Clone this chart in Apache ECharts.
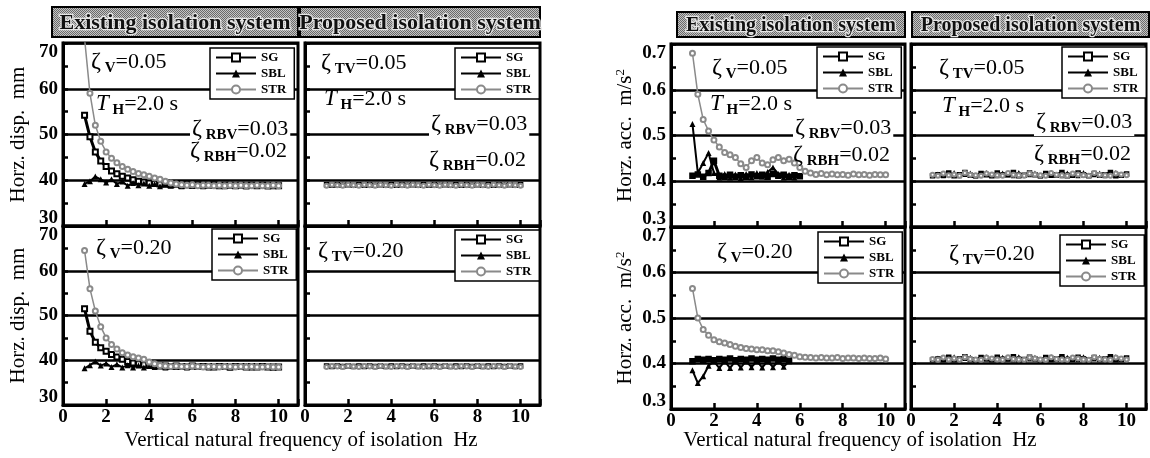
<!DOCTYPE html>
<html>
<head>
<meta charset="utf-8">
<script src="https://cdn.jsdelivr.net/npm/echarts@6/dist/echarts.min.js"></script>
<style>
html, body { margin: 0; padding: 0; background: #fff; }
#chart { width: 1150px; height: 458px; }
</style>
</head>
<body>
<div id="chart"></div>
<script>
// vertical natural frequency of isolation, Hz
var freq = [1, 1.25, 1.5, 1.75, 2, 2.25, 2.5, 2.75, 3, 3.25,
  3.5, 3.75, 4, 4.25, 4.5, 4.75, 5, 5.25, 5.5, 5.75,
  6, 6.25, 6.5, 6.75, 7, 7.25, 7.5, 7.75, 8, 8.25,
  8.5, 8.75, 9, 9.25, 9.5, 9.75, 10];

// horizontal displacement, mm - existing system
var dispExSG05 = [54.2, 49.5, 46.2, 44.2, 43.0, 42.0, 41.4, 40.9, 40.5, 40.1,
  39.8, 39.6, 39.4, 39.3, 39.2, 39.1, 39.0, 39.1, 38.9, 39.0,
  38.9, 39.0, 38.9, 38.9, 39.0, 38.8, 38.9, 38.9, 38.8, 38.9,
  38.8, 38.9, 38.8, 38.9, 38.8, 38.8, 38.8];
var dispExSBL05 = [39.2, 39.8, 40.8, 40.2, 39.5, 40.2, 39.2, 39.7, 38.8, 39.4,
  38.9, 39.3, 38.8, 39.2, 38.7, 39.1, 38.8, 39.1, 38.7, 39.0,
  38.8, 39.0, 38.7, 39.0, 38.8, 39.0, 38.7, 38.9, 38.8, 39.0,
  38.7, 38.9, 38.8, 38.9, 38.7, 38.9, 38.8];
var dispExSTR05 = [71.0, 59.0, 52.0, 48.5, 46.2, 44.8, 43.8, 43.0, 42.4, 41.9,
  41.5, 41.2, 40.9, 40.5, 40.2, 39.8, 39.4, 39.2, 39.0, 38.9,
  39.0, 38.8, 38.9, 38.9, 38.8, 38.9, 38.8, 38.9, 38.8, 38.9,
  38.8, 38.8, 38.9, 38.8, 38.8, 38.9, 38.8];
var dispExSG20 = [51.5, 46.5, 44.0, 42.8, 42.0, 41.3, 40.7, 40.2, 39.7, 39.4,
  39.2, 39.0, 38.9, 38.8, 38.7, 38.7, 38.6, 38.7, 38.6, 38.6,
  38.7, 38.6, 38.6, 38.6, 38.5, 38.6, 38.6, 38.5, 38.6, 38.6,
  38.5, 38.6, 38.5, 38.6, 38.5, 38.5, 38.5];
var dispExSBL20 = [38.2, 38.9, 39.7, 38.8, 39.3, 38.5, 39.1, 38.4, 38.9, 38.4,
  38.8, 38.4, 38.7, 38.5, 38.8, 38.4, 38.7, 38.5, 38.7, 38.4,
  38.7, 38.5, 38.7, 38.4, 38.6, 38.5, 38.7, 38.4, 38.6, 38.5,
  38.7, 38.4, 38.6, 38.5, 38.6, 38.4, 38.5];
var dispExSTR20 = [64.5, 56.0, 51.0, 47.5, 45.0, 43.5, 42.5, 41.7, 41.2, 40.8,
  40.5, 40.2, 39.6, 39.2, 38.8, 38.7, 38.6, 38.7, 38.6, 38.6,
  38.7, 38.6, 38.5, 38.6, 38.6, 38.5, 38.6, 38.6, 38.5, 38.6,
  38.5, 38.6, 38.5, 38.5, 38.6, 38.5, 38.5];

// horizontal displacement, mm - proposed system
var dispPrSG05 = [39.0, 38.9, 39.0, 38.9, 39.0, 38.9, 39.0, 38.9, 39.0, 38.9,
  39.0, 38.9, 39.0, 38.9, 39.0, 38.9, 39.0, 38.9, 39.0, 38.9,
  39.0, 38.9, 39.0, 38.9, 39.0, 38.9, 39.0, 38.9, 39.0, 38.9,
  39.0, 38.9, 39.0, 38.9, 39.0, 38.9, 39.0];
var dispPrSBL05 = [38.9, 39.1, 38.9, 39.0, 39.1, 38.9, 39.0, 39.1, 38.9, 39.0,
  39.1, 38.9, 39.0, 39.1, 38.9, 39.0, 39.1, 38.9, 39.0, 39.1,
  38.9, 39.0, 39.1, 38.9, 39.0, 39.1, 38.9, 39.0, 39.1, 38.9,
  39.0, 39.1, 38.9, 39.0, 39.1, 38.9, 39.0];
var dispPrSTR05 = [38.8, 39.0, 38.9, 38.8, 39.0, 38.9, 38.8, 39.0, 38.9, 38.8,
  39.0, 38.9, 38.8, 39.0, 38.9, 38.8, 39.0, 38.9, 38.8, 39.0,
  38.9, 38.8, 39.0, 38.9, 38.8, 39.0, 38.9, 38.8, 39.0, 38.9,
  38.8, 39.0, 38.9, 38.8, 39.0, 38.9, 38.8];
var dispPrSG20 = [38.7, 38.6, 38.7, 38.6, 38.7, 38.6, 38.7, 38.6, 38.7, 38.6,
  38.7, 38.6, 38.7, 38.6, 38.7, 38.6, 38.7, 38.6, 38.7, 38.6,
  38.7, 38.6, 38.7, 38.6, 38.7, 38.6, 38.7, 38.6, 38.7, 38.6,
  38.7, 38.6, 38.7, 38.6, 38.7, 38.6, 38.7];
var dispPrSBL20 = [38.6, 38.8, 38.6, 38.7, 38.8, 38.6, 38.7, 38.8, 38.6, 38.7,
  38.8, 38.6, 38.7, 38.8, 38.6, 38.7, 38.8, 38.6, 38.7, 38.8,
  38.6, 38.7, 38.8, 38.6, 38.7, 38.8, 38.6, 38.7, 38.8, 38.6,
  38.7, 38.8, 38.6, 38.7, 38.8, 38.6, 38.7];
var dispPrSTR20 = [38.5, 38.7, 38.6, 38.5, 38.7, 38.6, 38.5, 38.7, 38.6, 38.5,
  38.7, 38.6, 38.5, 38.7, 38.6, 38.5, 38.7, 38.6, 38.5, 38.7,
  38.6, 38.5, 38.7, 38.6, 38.5, 38.7, 38.6, 38.5, 38.7, 38.6,
  38.5, 38.7, 38.6, 38.5, 38.7, 38.6, 38.5];

// horizontal acceleration, m/s2 - existing system (SG, SBL computed up to ~6 Hz)
var accExSG05 = [0.412, 0.415, 0.410, 0.418, 0.445, 0.412, 0.410, 0.414, 0.410, 0.413,
  0.410, 0.415, 0.411, 0.414, 0.410, 0.416, 0.412, 0.414, 0.410, 0.413,
  0.411];
var accExSBL05 = [0.525, 0.418, 0.440, 0.462, 0.418, 0.408, 0.416, 0.408, 0.415, 0.407,
  0.416, 0.409, 0.418, 0.410, 0.420, 0.430, 0.416, 0.408, 0.414, 0.408,
  0.412];
var accExSTR05 = [0.680, 0.590, 0.535, 0.510, 0.490, 0.475, 0.463, 0.458, 0.452, 0.438,
  0.430, 0.445, 0.452, 0.440, 0.436, 0.447, 0.452, 0.445, 0.448, 0.440,
  0.430, 0.422, 0.418, 0.415, 0.417, 0.414, 0.416, 0.414, 0.415, 0.413,
  0.416, 0.414, 0.415, 0.413, 0.415, 0.414, 0.414];
var accExSG20 = [0.405, 0.410, 0.408, 0.410, 0.407, 0.410, 0.408, 0.411, 0.407, 0.410,
  0.408, 0.411, 0.408, 0.410, 0.408, 0.411, 0.408, 0.410, 0.408];
var accExSBL20 = [0.385, 0.357, 0.372, 0.395, 0.405, 0.390, 0.405, 0.390, 0.405, 0.391,
  0.405, 0.392, 0.405, 0.391, 0.405, 0.392, 0.405, 0.393, 0.405];
var accExSTR20 = [0.565, 0.500, 0.475, 0.462, 0.452, 0.448, 0.445, 0.442, 0.438, 0.435,
  0.433, 0.432, 0.430, 0.430, 0.428, 0.428, 0.426, 0.423, 0.420, 0.418,
  0.415, 0.414, 0.413, 0.412, 0.413, 0.412, 0.412, 0.413, 0.411, 0.412,
  0.412, 0.411, 0.412, 0.411, 0.411, 0.412, 0.410];

// horizontal acceleration, m/s2 - proposed system
var accPrSG05 = [0.412, 0.414, 0.413, 0.418, 0.412, 0.414, 0.419, 0.413, 0.412, 0.417,
  0.414, 0.412, 0.418, 0.413, 0.414, 0.419, 0.412, 0.413, 0.418, 0.414,
  0.412, 0.417, 0.413, 0.414, 0.419, 0.412, 0.413, 0.418, 0.414, 0.412,
  0.417, 0.413, 0.414, 0.419, 0.412, 0.413, 0.416];
var accPrSBL05 = [0.413, 0.416, 0.412, 0.414, 0.419, 0.412, 0.415, 0.418, 0.412, 0.414,
  0.419, 0.413, 0.412, 0.418, 0.414, 0.412, 0.419, 0.413, 0.414, 0.418,
  0.412, 0.414, 0.419, 0.413, 0.412, 0.418, 0.414, 0.412, 0.419, 0.413,
  0.414, 0.418, 0.412, 0.414, 0.419, 0.413, 0.415];
var accPrSTR05 = [0.414, 0.412, 0.417, 0.413, 0.415, 0.412, 0.418, 0.414, 0.413, 0.412,
  0.417, 0.415, 0.413, 0.412, 0.418, 0.414, 0.413, 0.412, 0.417, 0.415,
  0.413, 0.412, 0.418, 0.414, 0.413, 0.412, 0.417, 0.415, 0.413, 0.412,
  0.418, 0.414, 0.413, 0.412, 0.417, 0.415, 0.413];
var accPrSG20 = [0.408, 0.410, 0.409, 0.414, 0.408, 0.410, 0.415, 0.409, 0.408, 0.413,
  0.410, 0.408, 0.414, 0.409, 0.410, 0.415, 0.408, 0.409, 0.414, 0.410,
  0.408, 0.413, 0.409, 0.410, 0.415, 0.408, 0.409, 0.414, 0.410, 0.408,
  0.413, 0.409, 0.410, 0.415, 0.408, 0.409, 0.412];
var accPrSBL20 = [0.409, 0.412, 0.408, 0.410, 0.415, 0.408, 0.411, 0.414, 0.408, 0.410,
  0.415, 0.409, 0.408, 0.414, 0.410, 0.408, 0.415, 0.409, 0.410, 0.414,
  0.408, 0.410, 0.415, 0.409, 0.408, 0.414, 0.410, 0.408, 0.415, 0.409,
  0.410, 0.414, 0.408, 0.410, 0.415, 0.409, 0.411];
var accPrSTR20 = [0.410, 0.408, 0.413, 0.409, 0.411, 0.408, 0.414, 0.410, 0.409, 0.408,
  0.413, 0.411, 0.409, 0.408, 0.414, 0.410, 0.409, 0.408, 0.413, 0.411,
  0.409, 0.408, 0.414, 0.410, 0.409, 0.408, 0.413, 0.411, 0.409, 0.408,
  0.414, 0.410, 0.409, 0.408, 0.413, 0.411, 0.409];

var seriesNames = ['SG', 'SBL', 'STR'];
var serif = 'Liberation Serif';

var chart = echarts.init(document.getElementById('chart'));

function pairs(vals) {
  return vals.map(function (v, i) { return [freq[i], v]; });
}

// panel rectangles
var grids = [
  { left: 63, top: 43, width: 235, height: 183 },   // disp existing 0.05
  { left: 305, top: 43, width: 235, height: 183 },  // disp proposed 0.05
  { left: 63, top: 226, width: 235, height: 179 },  // disp existing 0.20
  { left: 305, top: 226, width: 235, height: 179 }, // disp proposed 0.20
  { left: 671, top: 44, width: 234, height: 183 },  // acc existing 0.05
  { left: 911, top: 44, width: 235, height: 183 },  // acc proposed 0.05
  { left: 671, top: 227, width: 234, height: 182 }, // acc existing 0.20
  { left: 911, top: 227, width: 235, height: 182 }  // acc proposed 0.20
].map(function (g) {
  g.show = true;
  g.borderColor = '#000';
  g.borderWidth = 3;
  g.backgroundColor = '#fff';
  g.outerBoundsMode = 'none';
  return g;
});

function xAx(gi, labels) {
  return {
    type: 'value', gridIndex: gi, min: 0, max: 10.9, interval: 2,
    axisLine: { show: true, onZero: false, lineStyle: { color: '#000', width: 3 } },
    axisTick: { inside: true, length: 6, lineStyle: { color: '#000', width: 2.5 } },
    axisLabel: {
      show: labels, color: '#000', fontFamily: serif, fontWeight: 'bold', fontSize: 19, margin: 3,
      formatter: function (v) { return v % 2 === 0 ? String(v) : ''; }
    },
    splitLine: { show: false }
  };
}

var tickFont = { fontFamily: serif, fontWeight: 'bold', fontSize: 19, color: '#000' };

function yAx(gi, min, max, step, labels, name, dec) {
  return {
    type: 'value', gridIndex: gi, min: min, max: max, interval: step,
    name: name, nameLocation: 'middle', nameGap: 34,
    nameTextStyle: {
      fontFamily: serif, fontSize: 21, color: '#000',
      rich: { sup: { fontFamily: serif, fontSize: 13, color: '#000', padding: [0, 0, 10, 0] } }
    },
    axisLine: { show: true, lineStyle: { color: '#000', width: 3 } },
    axisTick: { inside: true, length: 5, lineStyle: { color: '#000', width: 2.5 } },
    minorTick: { show: true, splitNumber: 2, length: 5, lineStyle: { color: '#000', width: 2.5 } },
    axisLabel: {
      show: labels, margin: 5,
      fontFamily: serif, fontWeight: 'bold', fontSize: 19, color: '#000',
      // end labels sit inside the panel edge so the stacked panels do not collide
      formatter: function (v) {
        var s = v.toFixed(dec);
        if (Math.abs(v - min) < step / 100) return '{lo|' + s + '}';
        if (Math.abs(v - max) < step / 100) return '{hi|' + s + '}';
        return s;
      },
      rich: {
        lo: Object.assign({ padding: [0, 0, 16, 0] }, tickFont),
        hi: Object.assign({ padding: [18, 0, 0, 0] }, tickFont)
      }
    },
    splitLine: { show: true, lineStyle: { color: '#000', width: 2.5 } }
  };
}

var xAxes = [], yAxes = [];
for (var i = 0; i < 8; i++) {
  var bottom = (i === 2 || i === 3 || i === 6 || i === 7);
  var existing = (i % 2 === 0);
  xAxes.push(xAx(i, bottom));
  if (i < 4) {
    yAxes.push(yAx(i, 30, 70, 10, existing, existing ? 'Horz. disp.  mm' : '', 0));
  } else {
    yAxes.push(yAx(i, 0.3, 0.7, 0.1, existing, existing ? 'Horz. acc.  m/s{sup|2}' : '', 1));
  }
}

function trio(gi, sg, sbl, str, sgSym, size) {
  return [
    { name: 'SG', type: 'line', xAxisIndex: gi, yAxisIndex: gi, data: pairs(sg),
      symbol: sgSym, symbolSize: size, lineStyle: { color: '#000', width: 3 },
      itemStyle: { color: '#000', borderColor: '#000', borderWidth: 1.5 }, z: 3 },
    { name: 'SBL', type: 'line', xAxisIndex: gi, yAxisIndex: gi, data: pairs(sbl),
      symbol: 'triangle', symbolSize: size + 1, lineStyle: { color: '#000', width: 2 },
      itemStyle: { color: '#000' }, z: 3 },
    { name: 'STR', type: 'line', xAxisIndex: gi, yAxisIndex: gi, data: pairs(str),
      symbol: 'emptyCircle', symbolSize: size, lineStyle: { color: '#8a8a8a', width: 1.5 },
      itemStyle: { color: '#8a8a8a', borderWidth: 1.2 }, z: 4 }
  ];
}

var series = [].concat(
  trio(0, dispExSG05, dispExSBL05, dispExSTR05, 'emptyRect', 5),
  trio(1, dispPrSG05, dispPrSBL05, dispPrSTR05, 'rect', 4),
  trio(2, dispExSG20, dispExSBL20, dispExSTR20, 'emptyRect', 5),
  trio(3, dispPrSG20, dispPrSBL20, dispPrSTR20, 'rect', 4),
  trio(4, accExSG05, accExSBL05, accExSTR05, 'rect', 5),
  trio(5, accPrSG05, accPrSBL05, accPrSTR05, 'rect', 4),
  trio(6, accExSG20, accExSBL20, accExSTR20, 'rect', 5),
  trio(7, accPrSG20, accPrSBL20, accPrSTR20, 'rect', 4)
);

var legendPos = [[210, 48], [455, 48], [212, 229], [455, 230],
  [817, 47], [1062, 47], [818, 232], [1060, 235]];
var legends = legendPos.map(function (p) {
  return {
    orient: 'vertical', left: p[0], top: p[1], data: seriesNames,
    itemWidth: 40, itemHeight: 10, itemGap: 3, padding: [3, 8, 3, 5],
    backgroundColor: '#fff', borderColor: '#000', borderWidth: 1.5,
    selectedMode: false,
    textStyle: { fontFamily: serif, fontWeight: 'bold', fontSize: 13, color: '#000' }
  };
});

// halftone fill for the headers
var dot = document.createElement('canvas');
dot.width = 2; dot.height = 2;
var dc = dot.getContext('2d');
dc.fillStyle = '#c4c4c4'; dc.fillRect(0, 0, 2, 2);
dc.fillStyle = '#6a6a6a'; dc.fillRect(0, 0, 1, 1); dc.fillRect(1, 1, 1, 1);

function header(x, y, w, h, txt, fs) {
  return [
    { type: 'rect', shape: { x: x, y: y, width: w, height: h }, z: 100,
      style: { fill: { image: dot, repeat: 'repeat' }, stroke: '#000', lineWidth: 2 } },
    { type: 'text', x: x + w / 2, y: y + h / 2 + 1, z: 101,
      style: { text: txt, fill: '#111', stroke: '#e6e6e6', lineWidth: 2.5,
        font: 'bold ' + fs + 'px ' + serif, align: 'center', verticalAlign: 'middle' } }
  ];
}

var richNote = {
  z: { fontFamily: serif, fontSize: 24, lineHeight: 28, fill: '#000' },
  t: { fontFamily: serif, fontSize: 23, fontStyle: 'italic', lineHeight: 28, fill: '#000' },
  s: { fontFamily: serif, fontSize: 15, fontWeight: 'bold', lineHeight: 16, verticalAlign: 'bottom', fill: '#000' },
  n: { fontFamily: serif, fontSize: 22, lineHeight: 28, fill: '#000' }
};

function note(x, cy, txt, bg) {
  return { type: 'text', x: x, y: cy, z: 102,
    style: { text: txt, rich: richNote, verticalAlign: 'middle', align: 'left',
      backgroundColor: bg ? '#fff' : null, padding: bg ? [0, 2, 0, 2] : 0 } };
}

var notes = [
  note(91, 62, '{z|ζ}{s| V}{n|=0.05}'),
  note(96, 104, '{t|T}{s| H}{n|=2.0 s}'),
  note(190, 129, '{z|ζ}{s| RBV}{n|=0.03}', true),
  note(190, 151, '{z|ζ}{s| RBH}{n|=0.02}'),
  note(321, 63, '{z|ζ}{s| TV}{n|=0.05}'),
  note(324, 99, '{t|T}{s| H}{n|=2.0 s}'),
  note(429, 124, '{z|ζ}{s| RBV}{n|=0.03}', true),
  note(429, 160, '{z|ζ}{s| RBH}{n|=0.02}'),
  note(96, 248, '{z|ζ}{s| V}{n|=0.20}'),
  note(318, 251, '{z|ζ}{s| TV}{n|=0.20}'),
  note(712, 68, '{z|ζ}{s| V}{n|=0.05}'),
  note(710, 104, '{t|T}{s| H}{n|=2.0 s}'),
  note(793, 128, '{z|ζ}{s| RBV}{n|=0.03}', true),
  note(793, 155, '{z|ζ}{s| RBH}{n|=0.02}'),
  note(939, 68, '{z|ζ}{s| TV}{n|=0.05}'),
  note(942, 106, '{t|T}{s| H}{n|=2.0 s}'),
  note(1034, 122, '{z|ζ}{s| RBV}{n|=0.03}', true),
  note(1034, 154, '{z|ζ}{s| RBH}{n|=0.02}'),
  note(717, 252, '{z|ζ}{s| V}{n|=0.20}'),
  note(949, 254, '{z|ζ}{s| TV}{n|=0.20}')
];

var xNames = [
  { type: 'text', x: 301, y: 440, z: 100,
    style: { text: 'Vertical natural frequency of isolation  Hz', font: '21px ' + serif,
      fill: '#000', align: 'center', verticalAlign: 'middle' } },
  { type: 'text', x: 860, y: 440, z: 100,
    style: { text: 'Vertical natural frequency of isolation  Hz', font: '21px ' + serif,
      fill: '#000', align: 'center', verticalAlign: 'middle' } }
];

var graphics = [].concat(
  header(52, 7, 246, 30, 'Existing isolation system', 22),
  header(300, 7, 240, 30, 'Proposed isolation system', 22),
  header(677, 12, 228, 25, 'Existing isolation system', 20),
  header(912, 12, 237, 25, 'Proposed isolation system', 20),
  notes, xNames
);

chart.setOption({
  backgroundColor: '#fff',
  animation: false,
  grid: grids,
  xAxis: xAxes,
  yAxis: yAxes,
  legend: legends,
  series: series,
  graphic: { elements: graphics }
});
</script>
</body>
</html>
